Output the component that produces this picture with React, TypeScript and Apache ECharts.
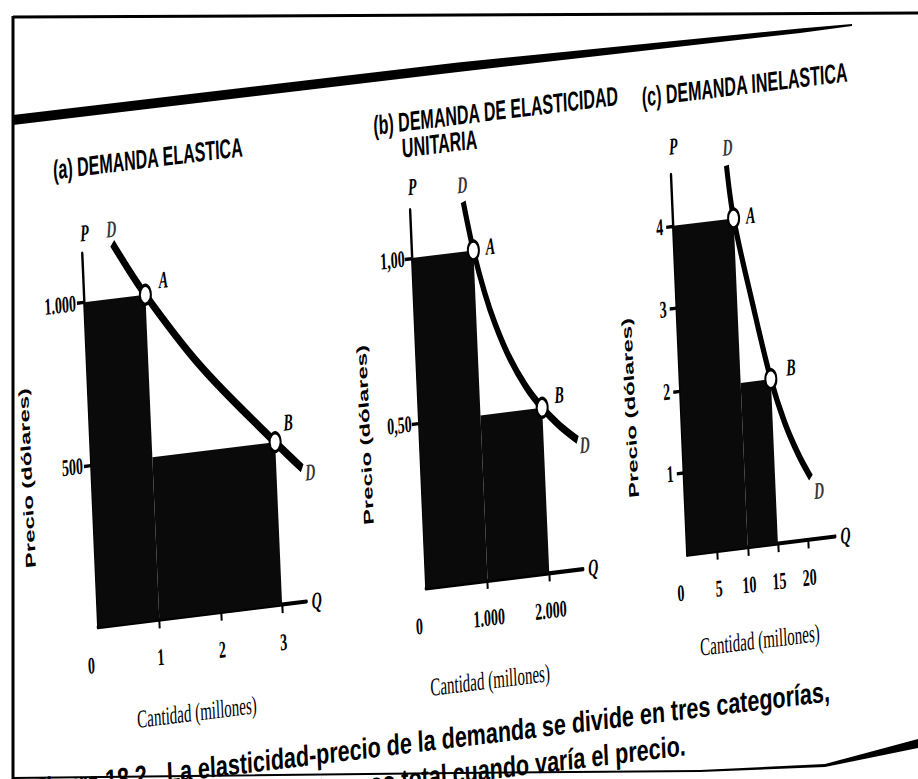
import React, { useEffect, useRef } from "react";
import * as echarts from "echarts";

// ---------------- texts ----------------
const titleA = "(a) DEMANDA ELASTICA";
const titleB1 = "(b) DEMANDA DE ELASTICIDAD";
const titleB2 = "UNITARIA";
const titleC = "(c) DEMANDA INELASTICA";
const priceTitle = "Precio (dólares)";
const quantityTitle = "Cantidad (millones)";
const captionNumber = "Figura 18.2";
const captionLine1 = "La elasticidad-precio de la demanda se divide en tres categorías,";
const captionLine2 = "según varíe el ingreso total cuando varía el precio.";

// ---------------- (a) elastic demand ----------------
const aCurve: number[][] = [[0.5, 1170], [1, 1000], [1.85, 760], [3, 500], [3.42, 410]];
const aPoints = [{ name: "A", q: 1, p: 1000 }, { name: "B", q: 3, p: 500 }];
const aRevenue: number[][] = [[0, 1, 1000], [1, 3, 500]]; // [q from, q to, price]
const aXTicks = [1, 2, 3];
const aXLabelValues = [0, 1, 2, 3];
const aXLabels = ["0", "1", "2", "3"];
const aYTicks = [500, 1000];
const aYLabels = ["500", "1.000"];

// ---------------- (b) unit-elastic demand ----------------
const bCurve: number[][] = [[870, 1.15], [1000, 1.0], [1150, 0.87], [1300, 0.77], [1500, 0.667], [1750, 0.571], [2000, 0.5], [2250, 0.444], [2550, 0.39]];
const bPoints = [{ name: "A", q: 1000, p: 1.0 }, { name: "B", q: 2000, p: 0.5 }];
const bRevenue: number[][] = [[0, 1000, 1.0], [1000, 2000, 0.5]];
const bXTicks = [1000, 2000];
const bXLabelValues = [0, 1000, 2000];
const bXLabels = ["0", "1.000", "2.000"];
const bYTicks = [0.5, 1];
const bYLabels = ["0,50", "1,00"];

// ---------------- (c) inelastic demand ----------------
const cCurve: number[][] = [[9.2, 4.65], [10, 4], [12.5, 2.95], [15, 2], [17, 1.45], [19, 1.05], [20.9, 0.75]];
const cPoints = [{ name: "A", q: 10, p: 4 }, { name: "B", q: 15, p: 2 }];
const cRevenue: number[][] = [[0, 10, 4], [10, 15, 2]];
const cXTicks = [5, 10, 15, 20];
const cXLabelValues = [0, 5, 10, 15, 20];
const cXLabels = ["0", "5", "10", "15", "20"];
const cYTicks = [1, 2, 3, 4];
const cYLabels = ["1", "2", "3", "4"];

// ---------------- page geometry (scan is tilted & stretched) ----------------
const S = 1.7;
const SKEW_Y = -0.123;
const SKEW_X = 0.073;
const OX = 60;
const OY = 40;
const LX = (x: number) => OX + x;
const LY = (y: number) => OY + y / S;
const off = (dx: number, dy: number) => {
  const x = (dx - 0.043 * dy) / 1.00529;
  return [x, (dy - SKEW_Y * x) / S];
};

const SERIF = '"Liberation Serif", "Times New Roman", "DejaVu Serif", serif';
const SANS = '"Liberation Sans", Arial, "DejaVu Sans", sans-serif';

const panels = [
  {
    curve: aCurve, points: aPoints, revenue: aRevenue,
    xTicks: aXTicks, xLabelValues: aXLabelValues, xLabels: aXLabels, yTicks: aYTicks, yLabels: aYLabels,
    left: 70.6, bottom: 636, pxX: 61.4, pxY: 0.325, xMax: 3.4, yMax: 1150,
    lineWidth: 5.5, pGap: 11.8, yLabelMargin: 8,
    pointOffsets: [[18, -15], [13, -20]], dOffsets: [[-1, -14], [8, 4]],
  },
  {
    curve: bCurve, points: bPoints, revenue: bRevenue,
    xTicks: bXTicks, xLabelValues: bXLabelValues, xLabels: bXLabels, yTicks: bYTicks, yLabels: bYLabels,
    left: 398.5, bottom: 637, pxX: 0.0617, pxY: 330, xMax: 2550, yMax: 1.145,
    lineWidth: 5, pGap: 13.5, yLabelMargin: 7,
    pointOffsets: [[17, -4], [17, -13]], dOffsets: [[-1, -17], [7, 5]],
  },
  {
    curve: cCurve, points: cPoints, revenue: cRevenue,
    xTicks: cXTicks, xLabelValues: cXLabelValues, xLabels: cXLabels, yTicks: cYTicks, yLabels: cYLabels,
    left: 660, bottom: 636, pxX: 6.04, pxY: 82.25, xMax: 24.5, yMax: 4.62,
    lineWidth: 5, pGap: 16.5, yLabelMargin: 10,
    pointOffsets: [[17, -3], [20, -12]], dOffsets: [[1, -18], [8, 13]],
  },
];

const letter = { fontFamily: SERIF, fontStyle: "italic" as const, fontWeight: "bold" as const, fontSize: 14, color: "#000" };

const fmt = (values: number[], labels: string[], shiftZero: boolean) => (v: number) => {
  const i = values.findIndex((x) => Math.abs(x - v) < 1e-9);
  const s = i >= 0 ? labels[i] : "";
  return shiftZero && Math.abs(v) < 1e-9 ? `{z|${s}}` : s;
};

function buildMainOption() {
  const grid: any[] = [];
  const xAxis: any[] = [];
  const yAxis: any[] = [];
  const series: any[] = [];
  const axisLine = { show: true, onZero: false, lineStyle: { color: "#000", width: 2.4 } };

  panels.forEach((p, i) => {
    grid.push({
      left: LX(p.left),
      top: LY(p.bottom - p.yMax * p.pxY),
      width: p.xMax * p.pxX,
      height: (p.yMax * p.pxY) / S,
    });
    xAxis.push({
      type: "value", gridIndex: i, min: 0, max: p.xMax,
      name: "Q", nameLocation: "end", nameGap: 5,
      nameTextStyle: { ...letter, align: "left", verticalAlign: "middle" },
      axisLine,
      axisTick: { show: true, customValues: p.xTicks, length: 5, lineStyle: { color: "#000", width: 2 } },
      axisLabel: {
        show: true, customValues: p.xLabelValues, margin: 15, hideOverlap: false,
        formatter: fmt(p.xLabelValues, p.xLabels, true),
        fontFamily: SERIF, fontSize: 14, fontWeight: "bold", color: "#000",
        rich: { z: { fontFamily: SERIF, fontSize: 14, fontWeight: "bold", color: "#000", padding: [0, 16, 0, 0] } },
      },
      splitLine: { show: false },
    });
    yAxis.push({
      type: "value", gridIndex: i, min: 0, max: p.yMax,
      name: "P", nameLocation: "end", nameGap: p.pGap,
      nameTextStyle: { ...letter, align: "center", verticalAlign: "middle", padding: [0, 0, 0, 7] },
      axisLine,
      axisTick: { show: true, customValues: p.yTicks, length: 7, lineStyle: { color: "#000", width: 2 } },
      axisLabel: {
        show: true, customValues: p.yTicks, margin: p.yLabelMargin, hideOverlap: false,
        formatter: fmt(p.yTicks, p.yLabels, false),
        fontFamily: SERIF, fontSize: 14, fontWeight: "bold", color: "#000",
      },
      splitLine: { show: false },
    });
    series.push({
      type: "line", xAxisIndex: i, yAxisIndex: i, data: p.curve, smooth: 0.35,
      symbol: "none", clip: false, z: 4, silent: true,
      lineStyle: { color: "#000", width: p.lineWidth },
      markArea: {
        silent: true,
        itemStyle: { color: "#0a0a0a", borderWidth: 0, opacity: 1 },
        label: { show: false },
        data: p.revenue.map((r) => [{ coord: [r[0], 0] }, { coord: [r[1], r[2]] }]),
      },
    });
    series.push({
      type: "scatter", xAxisIndex: i, yAxisIndex: i, z: 6, silent: true, clip: false,
      symbol: "circle", symbolSize: 11,
      itemStyle: { color: "#fff", borderColor: "#000", borderWidth: 2, opacity: 1 },
      data: p.points.map((pt, k) => ({
        name: pt.name, value: [pt.q, pt.p],
        label: { show: true, formatter: pt.name, position: "inside", offset: off(p.pointOffsets[k][0], p.pointOffsets[k][1]), ...letter },
      })),
    });
    const ends = [p.curve[0], p.curve[p.curve.length - 1]];
    series.push({
      type: "scatter", xAxisIndex: i, yAxisIndex: i, z: 6, silent: true, clip: false,
      symbol: "circle", symbolSize: 1,
      itemStyle: { color: "rgba(0,0,0,0)" },
      data: ends.map((pt, k) => ({
        value: pt,
        label: { show: true, formatter: "D", position: "inside", offset: off(p.dOffsets[k][0], p.dOffsets[k][1]), ...letter },
      })),
    });
  });

  const titleStyle = { fontFamily: SANS, fontWeight: "bold", fontSize: 16, fill: "#000", align: "left", verticalAlign: "middle" };
  const vTitle = { fontFamily: SANS, fontWeight: "bold", fontSize: 14, fill: "#000", align: "center", verticalAlign: "middle" };
  const qTitle = { fontFamily: SERIF, fontSize: 15, fill: "#000", align: "center", verticalAlign: "middle" };
  const capStyle = { fontFamily: SANS, fontWeight: "bold", fontSize: 21.5, fill: "#000", verticalAlign: "middle" };

  const graphic: any[] = [
    { type: "text", x: LX(45.5), y: LY(176), style: { ...titleStyle, text: titleA } },
    { type: "text", x: LX(366), y: LY(171), style: { ...titleStyle, text: titleB1 } },
    { type: "text", x: LX(393.5), y: LY(197), style: { ...titleStyle, text: titleB2 } },
    { type: "text", x: LX(634.3), y: LY(175.6), style: { ...titleStyle, text: titleC } },
    { type: "text", x: LX(6.4), y: LY(479), rotation: Math.PI / 2, style: { ...vTitle, text: priceTitle } },
    { type: "text", x: LX(344.5), y: LY(477.4), rotation: Math.PI / 2, style: { ...vTitle, text: priceTitle } },
    { type: "text", x: LX(609.3), y: LY(483), rotation: Math.PI / 2, style: { ...vTitle, text: priceTitle } },
    { type: "text", x: LX(165.5), y: LY(732.4), style: { ...qTitle, text: quantityTitle } },
    { type: "text", x: LX(458.4), y: LY(736.4), style: { ...qTitle, text: quantityTitle } },
    { type: "text", x: LX(728.6), y: LY(729.6), style: { ...qTitle, text: quantityTitle } },
    { type: "text", x: LX(113), y: LY(789), scaleY: 0.8, style: { ...capStyle, align: "right", text: captionNumber } },
    { type: "text", x: LX(133), y: LY(789), scaleY: 0.8, style: { ...capStyle, align: "left", text: captionLine1 } },
    { type: "text", x: LX(133), y: LY(825), scaleY: 0.8, style: { ...capStyle, align: "left", text: captionLine2 } },
  ];

  return { animation: false, grid, xAxis, yAxis, series, graphic };
}

function buildFrameOption() {
  return {
    animation: false,
    graphic: [
      { type: "line", shape: { x1: 13, y1: 17, x2: 918, y2: 13 }, style: { stroke: "#000", lineWidth: 3 } },
      { type: "line", shape: { x1: 13, y1: 16, x2: 13, y2: 779 }, style: { stroke: "#000", lineWidth: 3 } },
      {
        type: "polygon",
        shape: { points: [[13, 115], [458, 62.5], [800, 28.5], [852, 24], [852, 26], [800, 33], [458, 72], [13, 125]] },
        style: { fill: "#000" },
      },
      {
        type: "polygon",
        shape: { points: [[13, 777], [458, 772], [700, 770], [825, 764], [918, 739], [918, 748], [825, 767], [700, 772], [458, 774], [13, 779]] },
        style: { fill: "#000" },
      },
    ],
  };
}

export default function App() {
  const mainRef = useRef<HTMLDivElement>(null);
  const frameRef = useRef<HTMLDivElement>(null);
  useEffect(() => {
    const main = echarts.init(mainRef.current!, undefined, { renderer: "svg" });
    main.setOption(buildMainOption() as any);
    const frame = echarts.init(frameRef.current!, undefined, { renderer: "svg" });
    frame.setOption(buildFrameOption() as any);
    return () => {
      main.dispose();
      frame.dispose();
    };
  }, []);
  return (
    <div style={{ position: "fixed", left: 0, top: 0, width: 918, height: 779, overflow: "hidden", background: "#fff" }}>
      <div
        ref={mainRef}
        style={{
          position: "absolute", left: -OX, top: -OY, width: 1060, height: 620,
          transformOrigin: `${OX}px ${OY}px`,
          transform: `matrix(1, ${SKEW_Y}, ${SKEW_X}, ${S}, 0, 0)`,
        }}
      />
      <div ref={frameRef} style={{ position: "absolute", left: 0, top: 0, width: 918, height: 779 }} />
    </div>
  );
}
